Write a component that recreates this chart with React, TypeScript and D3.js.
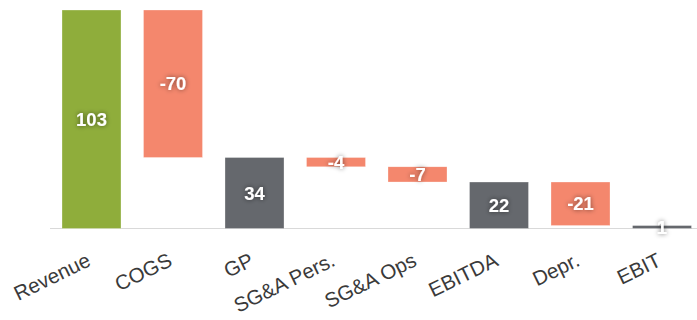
import React from "react";
import * as d3 from "d3";

// Profit bridge: steps and subtotals
const categories = ["Revenue", "COGS", "GP", "SG&A Pers.", "SG&A Ops", "EBITDA", "Depr.", "EBIT"];
// null marks a subtotal bar (running total from zero)
const changes: (number | null)[] = [103.4, -69.8, null, -4.4, -7.2, null, -20.6, null];

const WIDTH = 697;
const HEIGHT = 320;
const BASE_Y = 228.5;
const TOP_Y = 10;

const COLORS = { up: "#8fad3b", down: "#f4876d", sum: "#65686d" };

type Bar = { name: string; y0: number; y1: number; value: number; kind: "up" | "down" | "sum" };

function buildBars(): Bar[] {
  let total = 0;
  return categories.map((name, i) => {
    const c = changes[i];
    if (c === null) {
      return { name, y0: 0, y1: total, value: total, kind: "sum" };
    }
    const start = total;
    total += c;
    return { name, y0: start, y1: total, value: c, kind: c >= 0 ? "up" : "down" };
  });
}

// whole-number label with a plain hyphen for negatives
const fmt = (v: number) => String(Math.round(v));

export default function App() {
  const bars = buildBars();
  const maxVal = d3.max(bars, (b) => Math.max(b.y0, b.y1)) ?? 0;

  const x = d3
    .scaleBand<string>()
    .domain(categories)
    .range([50.75, 702.75])
    .paddingInner(0.276)
    .paddingOuter(0.138);
  const y = d3.scaleLinear().domain([0, maxVal]).range([BASE_Y, TOP_Y]);

  return (
    <svg
      width={WIDTH}
      height={HEIGHT}
      style={{ position: "absolute", left: 0, top: 0, display: "block", background: "#fff" }}
      fontFamily="'Liberation Sans', Arial, Helvetica, sans-serif"
    >
      <defs>
        <filter id="glow" x="-50%" y="-50%" width="200%" height="200%">
          <feGaussianBlur in="SourceAlpha" stdDeviation="2.5" result="blur" />
          <feComponentTransfer in="blur" result="halo">
            <feFuncA type="linear" slope="0.55" />
          </feComponentTransfer>
          <feMerge>
            <feMergeNode in="halo" />
            <feMergeNode in="SourceGraphic" />
          </feMerge>
        </filter>
      </defs>

      {/* x axis line */}
      <line x1={50} x2={WIDTH} y1={BASE_Y} y2={BASE_Y} stroke="#d9d9d9" strokeWidth={1} />

      {/* bars */}
      {bars.map((b) => {
        const top = y(Math.max(b.y0, b.y1));
        const bottom = y(Math.min(b.y0, b.y1));
        return (
          <rect
            key={b.name}
            x={x(b.name)}
            y={top}
            width={x.bandwidth()}
            height={Math.max(bottom - top, 1)}
            fill={COLORS[b.kind]}
            stroke="#ffffff"
            strokeOpacity={0.6}
            strokeWidth={0.5}
          />
        );
      })}

      {/* value labels */}
      {bars.map((b) => {
        const cy = (y(b.y0) + y(b.y1)) / 2;
        return (
          <text
            key={"v" + b.name}
            x={(x(b.name) ?? 0) + x.bandwidth() / 2}
            y={cy}
            dy="0.36em"
            textAnchor="middle"
            fill="#ffffff"
            fontWeight="bold"
            fontSize={18.5}
            filter="url(#glow)"
          >
            {fmt(b.value)}
          </text>
        );
      })}

      {/* category labels */}
      {categories.map((c) => {
        const cx = (x(c) ?? 0) + x.bandwidth() / 2 + 0.5;
        return (
          <text
            key={"c" + c}
            transform={`translate(${cx},265) rotate(-26)`}
            textAnchor="end"
            fill="#3a3a3a"
            fontSize={20.5}
          >
            {c}
          </text>
        );
      })}
    </svg>
  );
}
